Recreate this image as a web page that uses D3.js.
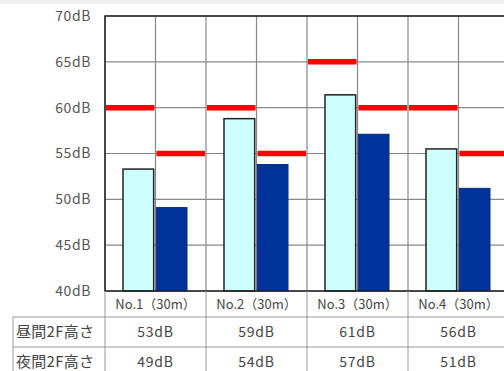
<!DOCTYPE html>
<html>
<head>
<meta charset="utf-8">
<script src="https://cdn.jsdelivr.net/npm/d3@7"></script>
<style>
  body { margin: 0; background: #fff; }
  text { font-family: "Noto Sans CJK JP", "Noto Sans", sans-serif; }
</style>
</head>
<body>
<div id="chart"></div>
<script>
var categories = ["No.1（30m）", "No.2（30m）", "No.3（30m）", "No.4（30m）"];
var dayValues = [53.3, 58.8, 61.4, 55.5];
var nightValues = [49.1, 53.8, 57.1, 51.2];
var dayLimits = [60, 60, 65, 60];
var nightLimits = [55, 55, 60, 55];
var rowLabels = ["昼間2F高さ", "夜間2F高さ"];
var dayLabels = ["53dB", "59dB", "61dB", "56dB"];
var nightLabels = ["49dB", "54dB", "57dB", "51dB"];
var yTicks = [40, 45, 50, 55, 60, 65, 70];

var width = 504, height = 371;
var plotLeft = 105, plotTop = 16, plotBottom = 291, catW = 101;

var svg = d3.select('#chart').append('svg').attr('width', width).attr('height', height);

// light strip at the very top
svg.append('rect').attr('x', 0).attr('y', 0).attr('width', width).attr('height', 4).attr('fill', '#efefef');

var x0 = d3.scaleBand().domain(categories).range([plotLeft, plotLeft + catW * categories.length]).padding(0);
var x1 = d3.scaleBand().domain(['day', 'night']).range([18, 82]).paddingInner(0.08);
var y = d3.scaleLinear().domain([40, 70]).range([plotBottom, plotTop]);

// horizontal grid
svg.append('g').selectAll('line').data(yTicks).enter().append('line')
  .attr('x1', plotLeft).attr('x2', width + 10)
  .attr('y1', function (d) { return y(d); }).attr('y2', function (d) { return y(d); })
  .attr('stroke', '#888').attr('stroke-width', 1.2);

// vertical grid: category edges and half points
var vx = [];
categories.forEach(function (c) { vx.push(x0(c)); vx.push(x0(c) + x0.bandwidth() / 2); });
svg.append('g').selectAll('line').data(vx).enter().append('line')
  .attr('x1', function (d) { return d; }).attr('x2', function (d) { return d; })
  .attr('y1', plotTop).attr('y2', plotBottom)
  .attr('stroke', '#888').attr('stroke-width', 1.2);

// bars
var groups = svg.append('g').selectAll('g').data(categories).enter().append('g')
  .attr('transform', function (d) { return 'translate(' + x0(d) + ',0)'; });

groups.append('rect')
  .attr('x', x1('day')).attr('width', x1.bandwidth())
  .attr('y', function (d, i) { return y(dayValues[i]); })
  .attr('height', function (d, i) { return plotBottom - y(dayValues[i]); })
  .attr('fill', '#ccffff').attr('stroke', '#222').attr('stroke-width', 1.5);

groups.append('rect')
  .attr('x', x1('night')).attr('width', x1.bandwidth())
  .attr('y', function (d, i) { return y(nightValues[i]); })
  .attr('height', function (d, i) { return plotBottom - y(nightValues[i]); })
  .attr('fill', '#003399').attr('stroke', '#0a2a80').attr('stroke-width', 1);

// red limit dashes
var half = x0.bandwidth() / 2;
groups.append('line')
  .attr('x1', 1).attr('x2', half - 1)
  .attr('y1', function (d, i) { return y(dayLimits[i]); })
  .attr('y2', function (d, i) { return y(dayLimits[i]); })
  .attr('stroke', '#ff0000').attr('stroke-width', 5.5);
groups.append('line')
  .attr('x1', half + 1).attr('x2', x0.bandwidth() - 1)
  .attr('y1', function (d, i) { return y(nightLimits[i]); })
  .attr('y2', function (d, i) { return y(nightLimits[i]); })
  .attr('stroke', '#ff0000').attr('stroke-width', 5.5);

// frame
svg.append('path')
  .attr('d', 'M' + (width + 10) + ',' + plotTop + 'H' + plotLeft + 'V' + plotBottom + 'H' + (width + 10))
  .attr('fill', 'none').attr('stroke', '#222').attr('stroke-width', 1.5);

// y axis labels
var yAxis = d3.axisLeft(y).tickValues(yTicks).tickFormat(function (d) { return d + 'dB'; })
  .tickSize(0).tickPadding(14);
var ga = svg.append('g').attr('transform', 'translate(' + plotLeft + ',0)').call(yAxis);
ga.select('.domain').remove();
ga.selectAll('text').attr('font-size', 14).attr('fill', '#555')
  .attr('letter-spacing', 0.6)
  .style('font-family', '"Noto Sans CJK JP", sans-serif');

// data table
var rowTop = 317, rowH = 30;
var tg = svg.append('g');
tg.append('line').attr('x1', 13).attr('x2', width + 10).attr('y1', rowTop).attr('y2', rowTop)
  .attr('stroke', '#999');
tg.append('line').attr('x1', 13).attr('x2', width + 10).attr('y1', rowTop + rowH).attr('y2', rowTop + rowH)
  .attr('stroke', '#999');
tg.append('line').attr('x1', 13).attr('x2', 13).attr('y1', rowTop).attr('y2', height)
  .attr('stroke', '#999');
tg.append('line').attr('x1', plotLeft).attr('x2', plotLeft).attr('y1', plotBottom).attr('y2', height)
  .attr('stroke', '#999');
tg.selectAll('.sep').data(categories).enter().append('line')
  .attr('x1', function (d) { return x0(d) + x0.bandwidth(); })
  .attr('x2', function (d) { return x0(d) + x0.bandwidth(); })
  .attr('y1', plotBottom).attr('y2', height)
  .attr('stroke', '#999');

tg.selectAll('.cat').data(categories).enter().append('text')
  .attr('x', function (d) { return x0(d) + x0.bandwidth() / 2; })
  .attr('y', 304).attr('dy', '0.35em')
  .attr('text-anchor', 'middle').attr('font-size', 13).attr('fill', '#444')
  .text(function (d) { return d; });

tg.selectAll('.rl').data(rowLabels).enter().append('text')
  .attr('x', 16).attr('y', function (d, i) { return rowTop + rowH * i + rowH / 2; }).attr('dy', '0.35em')
  .attr('font-size', 15).attr('fill', '#444').attr('letter-spacing', 0.3)
  .text(function (d) { return d; });

[dayLabels, nightLabels].forEach(function (labels, r) {
  tg.selectAll('.v' + r).data(labels).enter().append('text')
    .attr('x', function (d, i) { return x0(categories[i]) + x0.bandwidth() / 2; })
    .attr('y', rowTop + rowH * r + rowH / 2).attr('dy', '0.35em')
    .attr('text-anchor', 'middle').attr('font-size', 14).attr('fill', '#444')
    .attr('letter-spacing', 0.8)
    .text(function (d) { return d; });
});
</script>
</body>
</html>
